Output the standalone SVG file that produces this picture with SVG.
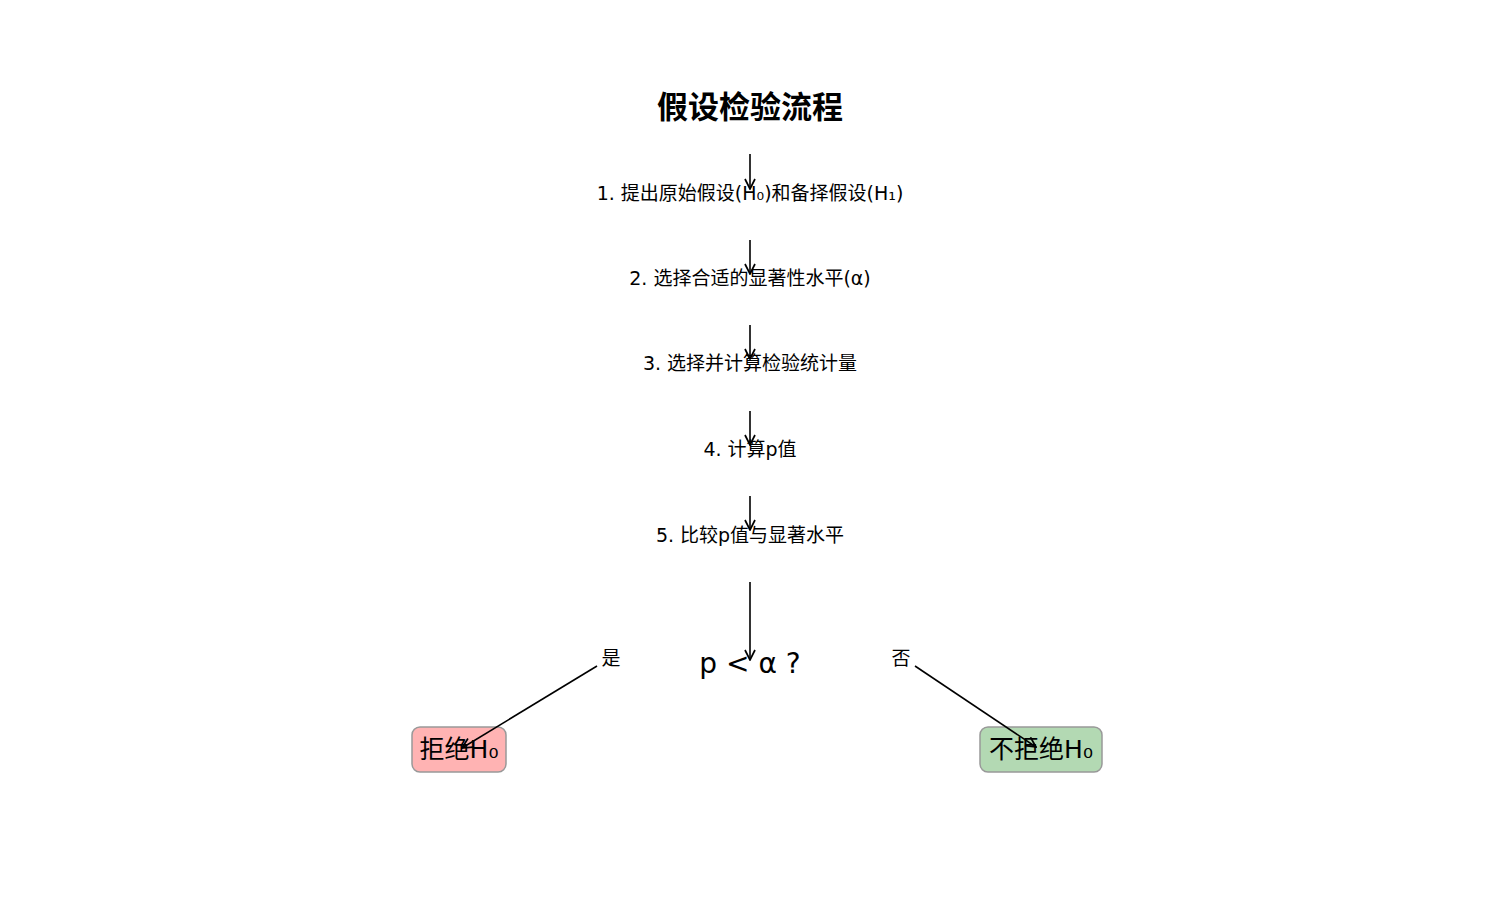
<svg xmlns="http://www.w3.org/2000/svg" width="1500" height="900" viewBox="0 0 1500 900">
<defs>
<style>
.t{font-family:"DejaVu Sans","Noto Sans CJK SC",sans-serif;fill:#000;text-anchor:middle;dominant-baseline:central}
.step{font-size:19px}
.c{stroke:#000;stroke-width:1.6;fill:none}
.box{stroke:#999;stroke-width:1.5}
</style>
<marker id="ah" viewBox="0 0 12 12" refX="11" refY="6" markerWidth="12" markerHeight="12" markerUnits="userSpaceOnUse" orient="auto">
<path d="M1,1 L11,6 L1,11" fill="none" stroke="#000" stroke-width="1.7"/>
</marker>
</defs>
<rect width="1500" height="900" fill="#fff"/>
<g id="title"><text class="t" x="750" y="107" font-size="31" font-weight="bold">假设检验流程</text></g>
<g id="step1"><text class="t step" x="750" y="193">1. 提出原始假设(H₀)和备择假设(H₁)</text></g>
<g id="step2"><text class="t step" x="750" y="278">2. 选择合适的显著性水平(α)</text></g>
<g id="step3"><text class="t step" x="750" y="363">3. 选择并计算检验统计量</text></g>
<g id="step4"><text class="t step" x="750" y="449">4. 计算p值</text></g>
<g id="step5"><text class="t step" x="750" y="535">5. 比较p值与显著水平</text></g>
<g id="decision"><text class="t" x="750" y="663" font-size="28">p &lt; α ?</text></g>
<g id="reject">
<rect class="box" x="412" y="727" width="94" height="45" rx="8" fill="#FFB3B3"/>
<text class="t" x="459" y="749" font-size="25">拒绝H₀</text>
</g>
<g id="accept">
<rect class="box" x="980" y="727" width="122" height="45" rx="8" fill="#B3D9B3"/>
<text class="t" x="1041" y="749" font-size="25">不拒绝H₀</text>
</g>
<g id="connectors">
<line class="c" x1="750" y1="154" x2="750" y2="189" marker-end="url(#ah)"/>
<line class="c" x1="750" y1="240" x2="750" y2="274" marker-end="url(#ah)"/>
<line class="c" x1="750" y1="325" x2="750" y2="359" marker-end="url(#ah)"/>
<line class="c" x1="750" y1="411" x2="750" y2="445" marker-end="url(#ah)"/>
<line class="c" x1="750" y1="496" x2="750" y2="530" marker-end="url(#ah)"/>
<line class="c" x1="750" y1="582" x2="750" y2="660" marker-end="url(#ah)"/>
<line class="c" x1="597" y1="666" x2="462" y2="748" marker-end="url(#ah)"/>
<line class="c" x1="915" y1="666" x2="1036" y2="747" marker-end="url(#ah)"/>
<text class="t" x="611" y="658" font-size="19">是</text>
<text class="t" x="901" y="658" font-size="19">否</text>
</g>
</svg>
